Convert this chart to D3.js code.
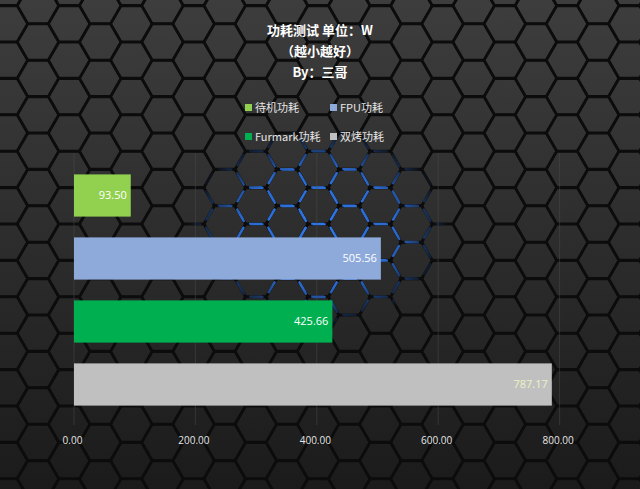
<!DOCTYPE html>
<html><head><meta charset="utf-8">
<script src="https://cdn.jsdelivr.net/npm/d3@7/dist/d3.min.js"></script>
<style>html,body{margin:0;padding:0;background:#222;}svg{display:block;}</style>
</head><body><svg id="c" width="640" height="489"></svg>
<script>
const categories = ["待机功耗", "FPU功耗", "Furmark功耗", "双烤功耗"];
const values = [93.50, 505.56, 425.66, 787.17];
const colors = ["#92d050", "#8eaadb", "#00b050", "#c0c0c0"];
const labelColors = ["#ffffff", "#ffffff", "#ffffff", "#eef2c4"];
const xTicks = [0, 200, 400, 600, 800];
const titleLines = ["功耗测试 单位：W", "（越小越好）", "By：三哥"];

const W = 640, H = 489;
const svg = d3.select("#c");
const defs = svg.append("defs");
const bg = defs.append("linearGradient").attr("id","bg").attr("x1",0).attr("y1",0).attr("x2",0).attr("y2",1);
bg.append("stop").attr("offset","0%").attr("stop-color","#3d3d3d");
bg.append("stop").attr("offset","45%").attr("stop-color","#2e2e2e");
bg.append("stop").attr("offset","100%").attr("stop-color","#1b1b1b");
const rg = defs.append("radialGradient").attr("id","glow").attr("cx",0.5).attr("cy",0.5).attr("r",0.5);
rg.append("stop").attr("offset","0%").attr("stop-color","#fff").attr("stop-opacity",1);
rg.append("stop").attr("offset","60%").attr("stop-color","#fff").attr("stop-opacity",0.85);
rg.append("stop").attr("offset","100%").attr("stop-color","#fff").attr("stop-opacity",0);
const mask = defs.append("mask").attr("id","gm");
mask.append("ellipse").attr("cx",318).attr("cy",228).attr("rx",130).attr("ry",100).attr("fill","url(#glow)");

svg.append("rect").attr("width",W).attr("height",H).attr("fill","url(#bg)");

// hexagon background pattern
const r = 20.75, dx = 31.12, dy = 36.4;
const hexPts = d3.range(6).map(k => [r*Math.cos(Math.PI/3*k), r*Math.sin(Math.PI/3*k)]);
const cells = [];
for (let i = -2; i < 22; i++) for (let j = -2; j < 16; j++) {
  cells.push([38 + i*dx, 42 + j*dy - ((i % 2 + 2) % 2 ? dy/2 : 0)]);
}
const hexPath = c => "M" + hexPts.map(p => [c[0]+p[0], c[1]+p[1]].join(",")).join("L") + "Z";
const hexG = svg.append("g");
hexG.selectAll("path").data(cells).join("path").attr("d", hexPath)
  .attr("fill","none").attr("stroke","#0c0c0c").attr("stroke-width",2.6);
const blueG = svg.append("g").attr("mask","url(#gm)");
blueG.selectAll("path").data(cells).join("path").attr("d", hexPath)
  .attr("fill","none").attr("stroke","#3079ee").attr("stroke-width",2.2)
  .attr("stroke-dasharray","13 8").attr("stroke-dashoffset",-4);

// scales
const x = d3.scaleLinear().domain([0, 800]).range([74, 559.6]);
const y = d3.scaleBand().domain(categories).range([164, 416]).paddingInner(0.33).paddingOuter(0.165);

// gridlines
svg.append("g").selectAll("line").data(xTicks).join("line")
  .attr("x1", d => x(d)).attr("x2", d => x(d)).attr("y1", 153).attr("y2", 425)
  .attr("stroke","#4a4a4a").attr("stroke-width",1).attr("opacity",0.5);

// bars
svg.append("g").selectAll("rect").data(values).join("rect")
  .attr("x", x(0)).attr("y", (d,i) => y(categories[i]))
  .attr("width", d => x(d) - x(0)).attr("height", y.bandwidth())
  .attr("fill", (d,i) => colors[i]);
svg.append("g").selectAll("text").data(values).join("text")
  .attr("x", d => x(d) - 4).attr("y", (d,i) => y(categories[i]) + y.bandwidth()/2)
  .attr("dy","0.35em").attr("text-anchor","end")
  .attr("font-family","'Open Sans','Noto Sans',sans-serif").attr("font-size",11)
  .attr("fill",(d,i) => labelColors[i]).text(d => d.toFixed(2));

// x axis
const axis = d3.axisBottom(x).tickValues(xTicks).tickFormat(d => d.toFixed(2)).tickSize(0).tickPadding(0);
const ax = svg.append("g").attr("transform","translate(-2,437)").call(axis);
ax.select(".domain").remove();
ax.selectAll("text").attr("fill","#e6e6e6").attr("font-size",10)
  .attr("font-family","'Open Sans','Noto Sans',sans-serif");

// title
svg.append("g").selectAll("text").data(titleLines).join("text")
  .attr("x", 320).attr("y", (d,i) => 35 + i*21).attr("text-anchor","middle")
  .attr("font-family","'Noto Sans CJK SC',sans-serif").attr("font-weight","bold").attr("font-size",13)
  .attr("fill","#ffffff").text(d => d);

// legend
const lg = svg.append("g").selectAll("g").data(categories).join("g")
  .attr("transform", (d,i) => `translate(${i%2 ? 330 : 245},${i<2 ? 108 : 137})`);
lg.append("rect").attr("x",0).attr("y",-4).attr("width",7).attr("height",7).attr("fill",(d,i)=>colors[i]);
lg.append("text").attr("x",10).attr("y",0).attr("dy","0.35em")
  .attr("font-family","'Noto Sans CJK SC',sans-serif").attr("font-size",11)
  .attr("fill","#e6e6e6").text(d => d);
</script></body></html>
